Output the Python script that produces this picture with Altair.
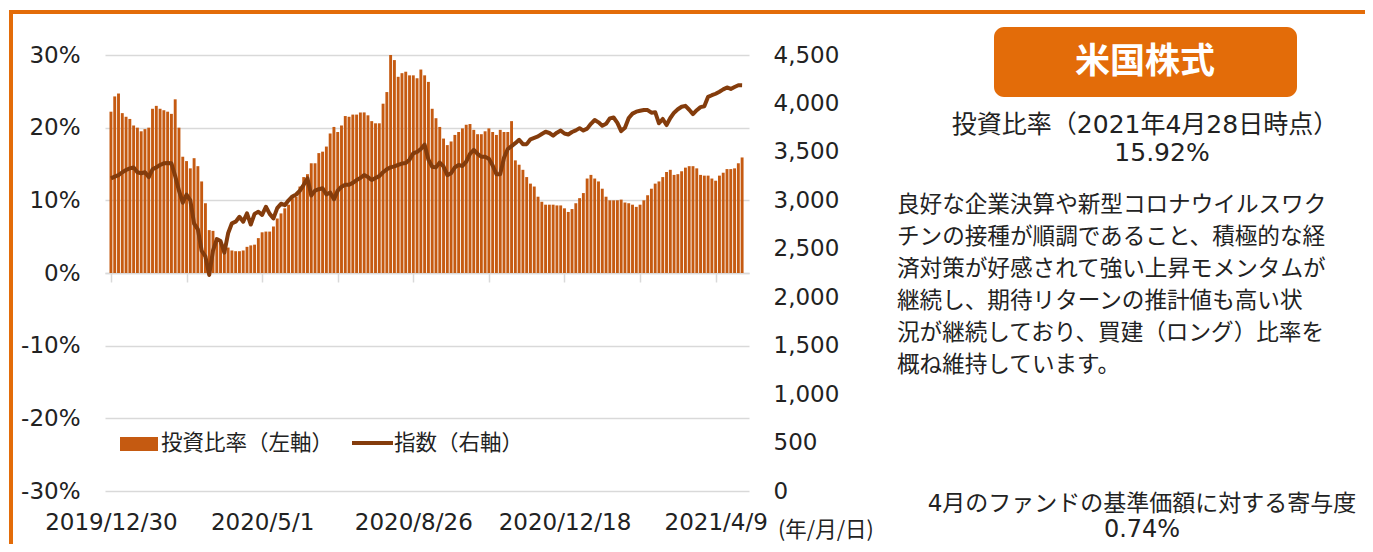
import altair as alt
import pandas as pd

# ---------------- data ----------------
# position of each plotted sample on the trading-day category axis
sample_idx = list(range(0, 336, 2))

# 投資比率 (%), left axis
ratio_pct = [
    22.2, 24.3, 24.7, 22.0, 21.5, 21.2, 20.3, 20.0, 19.5, 19.8,
    20.0, 22.6, 23.0, 22.6, 22.4, 22.2, 21.9, 23.9, 20.0, 16.0,
    15.4, 14.4, 15.8, 14.7, 12.6, 9.6, 5.9, 5.8, 4.8, 4.3,
    3.6, 3.5, 3.1, 3.0, 3.0, 3.1, 3.6, 3.8, 3.9, 4.8,
    5.6, 5.7, 5.7, 6.4, 7.5, 8.2, 8.9, 9.4, 10.3, 10.5,
    11.9, 13.2, 13.6, 15.1, 15.1, 16.5, 16.7, 17.4, 19.2, 20.1,
    19.4, 20.3, 21.6, 21.5, 21.8, 21.8, 22.1, 22.1, 21.7, 20.9,
    20.6, 20.6, 23.3, 24.9, 30.0, 29.3, 27.0, 27.5, 27.7, 27.2,
    27.2, 26.8, 28.0, 27.2, 26.3, 22.6, 21.3, 20.1, 18.5, 17.6,
    18.1, 19.0, 19.4, 19.9, 20.4, 20.5, 19.7, 19.1, 19.1, 19.5,
    19.9, 19.4, 19.0, 19.7, 19.4, 19.4, 20.9, 15.5, 14.9, 14.2,
    13.2, 12.3, 11.9, 10.5, 9.8, 9.4, 9.4, 9.4, 9.3, 9.3,
    8.9, 8.4, 8.8, 9.6, 10.3, 11.0, 13.0, 13.5, 13.0, 12.6,
    11.6, 10.5, 10.0, 10.0, 10.0, 10.1, 9.7, 9.6, 9.4, 9.1,
    9.4, 10.0, 10.7, 11.6, 12.3, 12.6, 13.2, 13.9, 14.2, 13.5,
    13.6, 14.0, 14.5, 14.7, 14.7, 14.4, 13.5, 13.4, 13.4, 13.0,
    12.7, 13.4, 13.8, 14.3, 14.3, 14.4, 15.1, 15.9,
]

# 指数, right axis
index_level = [
    3227, 3245, 3261, 3290, 3313, 3330, 3340, 3290, 3280, 3290,
    3240, 3320, 3340, 3365, 3382, 3385, 3382, 3250, 3100, 2975,
    3060, 3000, 2760, 2700, 2480, 2420, 2230, 2480, 2600, 2580,
    2460, 2660, 2763, 2780, 2830, 2780, 2866, 2750, 2860, 2883,
    2850, 2934, 2860, 2814, 2920, 2965, 2950, 3000, 3040, 3060,
    3100, 3160, 3227, 3050, 3100, 3115, 3124, 3060, 3080, 3010,
    3100, 3140, 3160, 3160, 3180, 3209, 3230, 3261, 3240, 3210,
    3230, 3250, 3290, 3320, 3340, 3350, 3365, 3380, 3385, 3420,
    3485, 3500, 3530, 3575, 3420, 3347, 3340, 3390, 3350, 3260,
    3280, 3340, 3364, 3355, 3400, 3480, 3520, 3480, 3450, 3450,
    3430, 3360, 3270, 3270, 3440, 3530, 3560, 3590, 3625, 3580,
    3580, 3630, 3645, 3660, 3685, 3708, 3695, 3668, 3698, 3720,
    3690, 3680, 3705, 3722, 3745, 3720, 3740, 3790, 3829, 3805,
    3770, 3790, 3846, 3855, 3800, 3715, 3750, 3850, 3895, 3915,
    3925, 3932, 3932, 3905, 3910, 3795, 3840, 3777, 3850, 3905,
    3940, 3966, 3975, 3935, 3890, 3930, 3962, 3971, 4068, 4085,
    4100, 4121, 4145, 4165, 4150, 4170, 4188, 4187,
]

tick_idx = [0, 40, 80, 120, 160, 200, 240, 280, 320]
label_idx = [0, 80, 160, 240, 320]
label_txt = ["2019/12/30", "2020/5/1", "2020/8/26", "2020/12/18", "2021/4/9"]
left_ticks = [-30, -20, -10, 0, 10, 20, 30]
right_ticks = [0, 500, 1000, 1500, 2000, 2500, 3000, 3500, 4000, 4500]

legend_labels = ["投資比率（左軸）", "指数（右軸）"]
unit_label = "(年/月/日)"
title_box = "米国株式"
ratio_head = "投資比率（2021年4月28日時点）"
ratio_now = "15.92%"
comment_lines = [
    "良好な企業決算や新型コロナウイルスワク",
    "チンの接種が順調であること、積極的な経",
    "済対策が好感されて強い上昇モメンタムが",
    "継続し、期待リターンの推計値も高い状",
    "況が継続しており、買建（ロング）比率を",
    "概ね維持しています。",
]
contrib_head = "4月のファンドの基準価額に対する寄与度"
contrib_val = "0.74%"

# ---------------- style ----------------
BAR = "#C55A11"
LINE = "#843C0C"
ORANGE = "#E36C09"
TXT = "#222222"
GRID = "#d9d9d9"
NUMFONT = "DejaVu Sans"
CJK = "Noto Sans CJK JP"
MIX = "DejaVu Sans, Noto Sans CJK JP"
W, H = 644, 436

df = pd.DataFrame({"i": sample_idx, "ratio": ratio_pct, "level": index_level})

expr = "''"
for v, t in reversed(list(zip(label_idx, label_txt))):
    expr = f"datum.value == {v} ? '{t}' : {expr}"

xenc = alt.X(
    "i:Q",
    scale=alt.Scale(domain=[-0.5, 335], nice=False, zero=False),
    axis=alt.Axis(
        values=tick_idx, labelExpr=expr, title=None, grid=False,
        offset=-218, tickSize=9, tickColor=GRID, tickWidth=1.5,
        domainColor=GRID, domainWidth=1.5, labelPadding=229,
        labelFont=NUMFONT, labelFontSize=23, labelColor=TXT,
        labelOverlap=False, labelFlush=False,
    ),
)

bars = alt.Chart(df).mark_bar(color=BAR, width=2.9).encode(
    x=xenc,
    y=alt.Y(
        "ratio:Q",
        scale=alt.Scale(domain=[-30, 30], nice=False),
        axis=alt.Axis(
            values=left_ticks, labelExpr="datum.value + '%'", title=None,
            grid=True, gridColor=GRID, gridWidth=1.3, domain=False, ticks=False,
            labelPadding=25, labelFont=NUMFONT, labelFontSize=23, labelColor=TXT,
        ),
    ),
)

line = alt.Chart(df).mark_line(color=LINE, strokeWidth=4, strokeJoin="round").encode(
    x=xenc,
    y=alt.Y(
        "level:Q",
        scale=alt.Scale(domain=[0, 4500], nice=False),
        axis=alt.Axis(
            orient="right", values=right_ticks, format=",.0f", title=None,
            grid=False, domain=False, ticks=False, labelPadding=24,
            labelFont=NUMFONT, labelFontSize=23, labelColor=TXT,
        ),
    ),
)

one = alt.Data(values=[{"k": 1}])


def txt(s, x, y, size, align="left", weight="normal", color=TXT, font=CJK):
    return alt.Chart(one).mark_text(
        text=s, align=align, baseline="middle", fontSize=size,
        fontWeight=weight, color=color, font=font,
    ).encode(x=alt.value(x), y=alt.value(y))


decor = [
    # frame
    alt.Chart(one).mark_rule(color=ORANGE, strokeWidth=4).encode(
        x=alt.value(-96), x2=alt.value(1260), y=alt.value(-43)),
    alt.Chart(one).mark_rule(color=ORANGE, strokeWidth=4).encode(
        x=alt.value(-94), y=alt.value(-45), y2=alt.value(489)),
    # legend
    alt.Chart(one).mark_rect(color=BAR).encode(
        x=alt.value(15), x2=alt.value(53), y=alt.value(382), y2=alt.value(396)),
    txt(legend_labels[0], 56, 389, 21.5),
    alt.Chart(one).mark_rule(color=LINE, strokeWidth=4).encode(
        x=alt.value(247), x2=alt.value(288), y=alt.value(388)),
    txt(legend_labels[1], 289, 389, 21.5),
    txt(unit_label, 673, 476, 21.5),
    # right panel
    alt.Chart(one).mark_rect(color=ORANGE, cornerRadius=10).encode(
        x=alt.value(889), x2=alt.value(1192), y=alt.value(-28), y2=alt.value(42)),
    txt(title_box, 1040, 7, 35, align="center", weight="bold", color="white"),
    txt(ratio_head, 1040, 70, 25, align="center", font=MIX),
    txt(ratio_now, 1057, 98, 25, align="center", font=NUMFONT),
]
for k, s in enumerate(comment_lines):
    decor.append(txt(s, 792, 150 + k * 32, 22.6))
decor.append(txt(contrib_head, 1037, 449, 23, align="center", font=MIX))
decor.append(txt(contrib_val, 1037, 475, 24, align="center", font=NUMFONT))

chart = (
    alt.layer(bars, line, *decor)
    .resolve_scale(y="independent")
    .properties(
        width=W, height=H,
        autosize=alt.AutoSizeParams(type="none"),
        padding={"left": 97, "top": 47, "right": 616, "bottom": 53},
        background="white",
    )
    .configure_view(strokeOpacity=0)
)

chart.save("out.html", embed_options={"renderer": "svg", "actions": False})
